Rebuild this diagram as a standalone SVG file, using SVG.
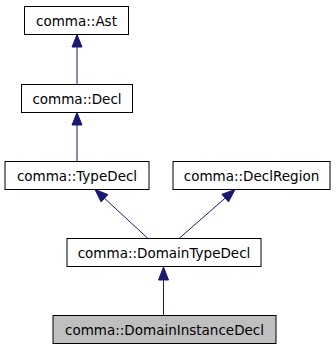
<svg xmlns="http://www.w3.org/2000/svg" width="336" height="349" viewBox="0 0 336 349">
<style>
.box{fill:#ffffff;stroke:#000000;stroke-width:1}
.cur{fill:#bfbfbf;stroke:#000000;stroke-width:1}
.lbl{font-family:"DejaVu Sans",sans-serif;font-size:13.5px;fill:#000000;text-anchor:middle}
.edge{stroke:#191970;stroke-width:1;fill:none}
.head{fill:#191970;stroke:#191970;stroke-width:1}
</style>
<rect x="0" y="0" width="336" height="349" fill="#ffffff"/>
<g id="connectors">
<line class="edge" x1="77" y1="84" x2="77" y2="47"/>
<polygon class="head" points="77,34.5 72,47 82,47"/>
<line class="edge" x1="77" y1="161.5" x2="77" y2="125"/>
<polygon class="head" points="77,112.5 72,125 82,125"/>
<line class="edge" x1="148" y1="238.5" x2="104.5" y2="198.3"/>
<polygon class="head" points="95,189.5 107.9,194.6 101.1,202"/>
<line class="edge" x1="179" y1="238.5" x2="225.2" y2="198.1"/>
<polygon class="head" points="235,189.5 228.5,201.9 221.9,194.3"/>
<line class="edge" x1="163.5" y1="315.5" x2="163.5" y2="280"/>
<polygon class="head" points="163.5,267 158.5,280 168.5,280"/>
</g>
<g id="node-ast">
<rect class="box" x="24.5" y="6.5" width="104" height="28"/>
<text class="lbl" x="76.5" y="25.5">comma::Ast</text>
</g>
<g id="node-decl">
<rect class="box" x="21.5" y="84.5" width="111" height="28"/>
<text class="lbl" x="77" y="103.5">comma::Decl</text>
</g>
<g id="node-typedecl">
<rect class="box" x="5" y="161.5" width="144" height="28"/>
<text class="lbl" x="77" y="180.5">comma::TypeDecl</text>
</g>
<g id="node-declregion">
<rect class="box" x="173" y="161.5" width="157" height="28"/>
<text class="lbl" x="251.5" y="180.5">comma::DeclRegion</text>
</g>
<g id="node-domaintypedecl">
<rect class="box" x="67" y="238.5" width="194" height="28"/>
<text class="lbl" x="164" y="257.5">comma::DomainTypeDecl</text>
</g>
<g id="node-domaininstancedecl">
<rect class="cur" x="53" y="315.5" width="223" height="28"/>
<text class="lbl" x="164.5" y="334.5">comma::DomainInstanceDecl</text>
</g>
</svg>
